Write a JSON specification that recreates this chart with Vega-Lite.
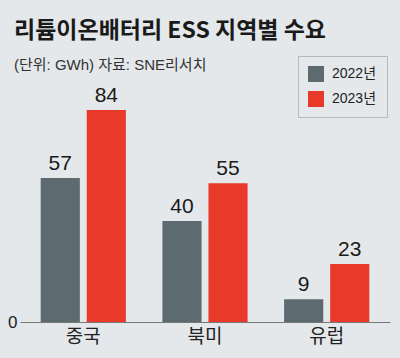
{
  "$schema": "https://vega.github.io/schema/vega-lite/v6.json",
  "width": 370,
  "height": 232,
  "autosize": "none",
  "padding": {"left": 20, "top": 90, "right": 10, "bottom": 36},
  "background": "#e4e8ea",
  "config": {
    "view": {"stroke": null},
    "font": "Liberation Sans, Noto Sans CJK KR"
  },
  "title": {
    "text": "리튬이온배터리 ESS 지역별 수요",
    "subtitle": "(단위: GWh) 자료: SNE리서치",
    "anchor": "start",
    "frame": "group",
    "dx": -6,
    "dy": 30,
    "offset": 13,
    "font": "Noto Sans CJK KR",
    "fontSize": 23,
    "fontWeight": "bold",
    "color": "#1a1a1a",
    "subtitleFont": "Liberation Sans, Noto Sans CJK KR",
    "subtitleFontSize": 15,
    "subtitleColor": "#333333",
    "subtitlePadding": 15
  },
  "data": {
    "values": [
      {"region": "중국", "year": "2022년", "value": 57},
      {"region": "중국", "year": "2023년", "value": 84},
      {"region": "북미", "year": "2022년", "value": 40},
      {"region": "북미", "year": "2023년", "value": 55},
      {"region": "유럽", "year": "2022년", "value": 9},
      {"region": "유럽", "year": "2023년", "value": 23}
    ]
  },
  "encoding": {
    "x": {
      "field": "region",
      "type": "nominal",
      "sort": ["중국", "북미", "유럽"],
      "scale": {"paddingInner": 0.3, "paddingOuter": 0.17},
      "axis": {
        "title": null,
        "labelAngle": 0,
        "labelFontSize": 19,
        "labelColor": "#222222",
        "labelFont": "Noto Sans CJK KR",
        "labelPadding": 5,
        "ticks": false,
        "domainColor": "#777777",
        "domainWidth": 1.2,
        "grid": false
      }
    },
    "xOffset": {"field": "year", "type": "nominal", "scale": {"paddingInner": 0.15}},
    "y": {
      "field": "value",
      "type": "quantitative",
      "scale": {"domain": [0, 91.9]},
      "axis": {
        "title": null,
        "values": [0],
        "grid": false,
        "domain": false,
        "ticks": false,
        "labelPadding": 3,
        "labelFontSize": 17,
        "labelColor": "#222222"
      }
    }
  },
  "layer": [
    {
      "mark": {"type": "bar"},
      "encoding": {
        "color": {
          "field": "year",
          "type": "nominal",
          "scale": {"domain": ["2022년", "2023년"], "range": ["#5d6a70", "#e8392b"]},
          "legend": {
            "title": null,
            "orient": "none",
            "legendX": 278,
            "legendY": -34,
            "padding": 10,
            "strokeColor": "#b8b8b8",
            "fillColor": "#e4e8ea",
            "symbolType": "square",
            "symbolSize": 256,
            "symbolStrokeWidth": 0,
            "symbolOpacity": 1,
            "labelFontSize": 14,
            "labelColor": "#222222",
            "labelOffset": 8,
            "rowPadding": 9
          }
        }
      }
    },
    {
      "mark": {"type": "text", "baseline": "bottom", "dy": -4, "fontSize": 21, "color": "#1a1a1a"},
      "encoding": {"text": {"field": "value", "type": "quantitative"}}
    }
  ]
}
